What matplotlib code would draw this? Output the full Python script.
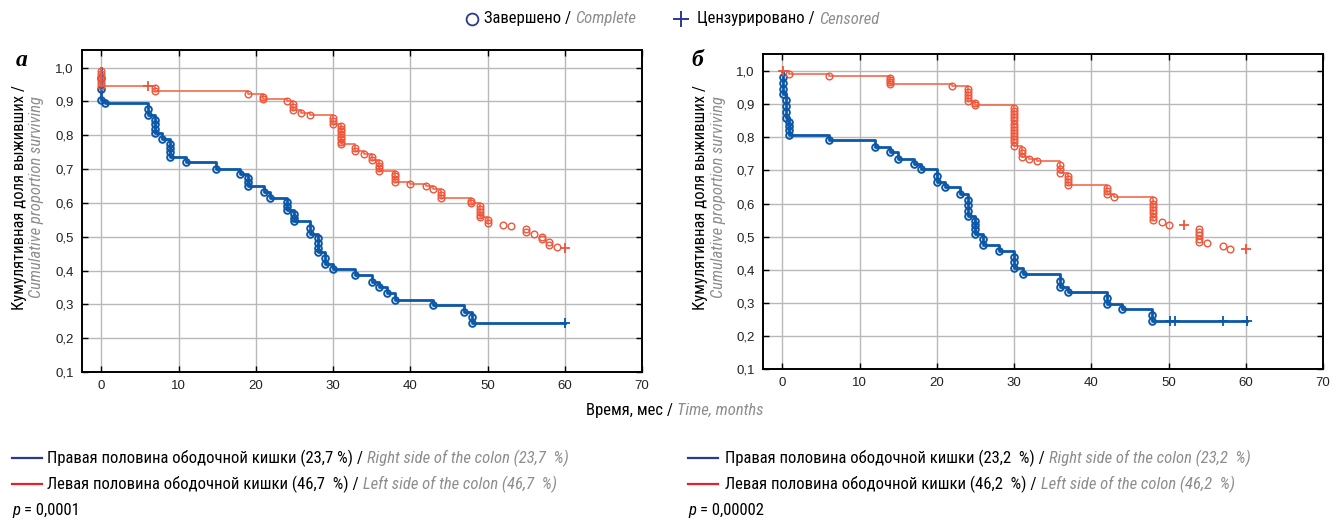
import matplotlib
matplotlib.use("Agg")
import matplotlib.pyplot as plt
from matplotlib import font_manager as fm
import numpy as np

# ---------------- DATA ----------------
# Panel a: event times, number of events, survival after events
a_right_t = [0, 0.5, 6.0, 6.9, 7.9, 8.9, 10.9, 14.9, 17.9, 19.0, 21.0, 21.9, 24.0, 24.9,
             27.0, 28.1, 28.9, 30.0, 32.9, 35.0, 35.9, 37.0, 38.0, 42.9, 46.9, 48.0]
a_right_n = [3, 1, 2, 4, 1, 4, 1, 1, 1, 3, 1, 1, 3, 3, 2, 4, 2, 1, 1, 1, 1, 1, 1, 1, 1, 2]
a_right_s = [0.905, 0.896, 0.860, 0.806, 0.788, 0.736, 0.721, 0.701, 0.685, 0.649, 0.632,
             0.615, 0.578, 0.545, 0.509, 0.454, 0.420, 0.404, 0.386, 0.366, 0.350, 0.333,
             0.314, 0.299, 0.278, 0.245]
a_right_cens_t = [60.0]
a_right_cens_s = [0.245]
a_right_line_end = 60.0

a_left_t = [0, 6.9, 19.0, 20.9, 24.0, 24.8, 25.9, 27.0, 30.0, 31.0, 32.9, 34.0, 35.0, 35.9,
            38.0, 39.9, 42.0, 42.9, 44.0, 47.9, 49.0, 50.0, 52.0, 53.0, 55.0, 56.0, 57.0,
            58.0, 59.0]
a_left_n = [6, 2, 1, 2, 1, 3, 1, 1, 3, 8, 2, 1, 2, 4, 4, 1, 1, 1, 3, 2, 5, 2, 1, 1, 2, 1, 2, 2, 1]
a_left_s = [0.947, 0.930, 0.922, 0.907, 0.900, 0.875, 0.867, 0.860, 0.834, 0.773, 0.752,
            0.744, 0.727, 0.694, 0.663, 0.656, 0.649, 0.641, 0.615, 0.599, 0.557, 0.540,
            0.536, 0.531, 0.514, 0.508, 0.492, 0.475, 0.469]
a_left_cens_t = [6.0, 60.0]
a_left_cens_s = [0.947, 0.467]
a_left_line_end = 50.0

# Panel b
b_right_t = [0.1, 0.5, 0.85, 6.0, 12.0, 13.9, 15.0, 17.0, 18.0, 20.0, 21.0, 23.0, 24.0,
             25.0, 26.0, 28.1, 30.0, 31.1, 35.9, 37.0, 42.0, 44.0, 47.9]
b_right_n = [4, 4, 4, 1, 1, 1, 1, 1, 1, 2, 1, 1, 4, 4, 2, 1, 3, 1, 2, 1, 2, 1, 2]
b_right_s = [0.930, 0.860, 0.808, 0.792, 0.771, 0.756, 0.734, 0.719, 0.703, 0.664, 0.649,
             0.629, 0.562, 0.509, 0.474, 0.458, 0.404, 0.386, 0.348, 0.333, 0.296, 0.282,
             0.245]
b_right_cens_t = [50.2, 50.9, 57.1, 60.1]
b_right_cens_s = [0.245, 0.245, 0.245, 0.245]
b_right_line_end = 60.1

b_left_t = [0.85, 6.0, 13.9, 22.0, 24.0, 24.9, 30.0, 31.0, 31.9, 33.0, 35.9, 37.0, 42.0,
            43.0, 48.0, 49.1, 50.1, 53.9, 55.0, 57.1, 57.9]
b_left_n = [1, 1, 4, 1, 5, 2, 13, 3, 1, 1, 3, 4, 3, 1, 7, 1, 1, 5, 1, 1, 1]
b_left_s = [0.993, 0.987, 0.962, 0.955, 0.911, 0.899, 0.775, 0.740, 0.734, 0.728, 0.692,
            0.656, 0.630, 0.620, 0.550, 0.544, 0.534, 0.484, 0.480, 0.472, 0.464]
b_left_cens_t = [0.1, 52.0, 60.0]
b_left_cens_s = [1.0, 0.534, 0.462]
b_left_line_end = 48.0

x_ticks = [0, 10, 20, 30, 40, 50, 60, 70]
y_ticks = [0.1, 0.2, 0.3, 0.4, 0.5, 0.6, 0.7, 0.8, 0.9, 1.0]

legend_right = ["Правая половина ободочной кишки (23,7 %) /", "Right side of the colon (23,7  %)",
                "Правая половина ободочной кишки (23,2  %) /", "Right side of the colon (23,2  %)"]
legend_left = ["Левая половина ободочной кишки (46,7  %) /", "Left side of the colon (46,7  %)",
               "Левая половина ободочной кишки (46,2  %) /", "Left side of the colon (46,2  %)"]
p_values = ["= 0,0001", "= 0,00002"]

# ---------------- FONTS ----------------
names = {f.name for f in fm.fontManager.ttflist}
COND = None
COND_STRETCH = 'normal'
for cand in ['Liberation Sans Narrow', 'Roboto Condensed', 'Open Sans Condensed',
             'Noto Sans Condensed', 'DejaVu Sans Condensed']:
    if cand in names:
        COND = cand
        break
if COND is None:
    if any(f.name == 'DejaVu Sans' and f.stretch in ('condensed', 'semi-condensed')
           for f in fm.fontManager.ttflist):
        COND = 'DejaVu Sans'
        COND_STRETCH = 'condensed'
    else:
        COND = 'DejaVu Sans'
COND_SIZE = 12.0 if COND != 'DejaVu Sans' or COND_STRETCH == 'condensed' else 9.8

plt.rcParams['font.family'] = ['Liberation Sans', 'DejaVu Sans']

BLUE = '#0b57a8'
RED = '#f0553a'
RED_LINE = '#f26b4c'
GRAY = '#8d8d8d'
NAVY = '#2b3990'

W, H = 1331, 522
fig = plt.figure(figsize=(W / 100, H / 100), dpi=100)


def px_axes(l, t, r, b):
    return fig.add_axes([l / W, 1 - b / H, (r - l) / W, (b - t) / H])


def draw_curve(ax, t, n, s, ct, cs, line_end, color, line_color, lw, mew, z):
    xs = [0.0]
    ys = [1.0]
    for ti, si in zip(t, s):
        if ti <= line_end:
            xs.append(ti)
            ys.append(si)
    if xs[-1] < line_end:
        xs.append(line_end)
        ys.append(ys[-1])
    ax.step(xs, ys, where='post', color=line_color, lw=lw, zorder=z, clip_on=False)
    mx, my = [], []
    prev = 1.0
    for ti, ni, si in zip(t, n, s):
        for k in range(1, ni + 1):
            mx.append(ti)
            my.append(prev - k * (prev - si) / ni)
        prev = si
    ax.plot(mx, my, 'o', ms=4.8, mfc='none', mec=color, mew=mew, zorder=z + 1, clip_on=False)
    ax.plot(ct, cs, '+', ms=7, mew=1.3, color=color, zorder=z + 1, clip_on=False)


def style_axes(ax):
    ax.set_xlim(-2.5, 70)
    ax.set_ylim(0.1, 1.052)
    ax.set_xticks(x_ticks)
    ax.set_yticks(y_ticks)
    ax.set_xticklabels([str(v) for v in x_ticks])
    ax.set_yticklabels([f"{v:.1f}".replace('.', ',') for v in y_ticks])
    ax.grid(True, color='#b9b9b9', lw=1.0)
    ax.set_axisbelow(True)
    ax.tick_params(direction='in', length=4, width=1.0, top=True, right=True,
                   labelsize=9.5, pad=6, colors='black', labelcolor='#222222')
    for sp in ax.spines.values():
        sp.set_linewidth(1.4)
        sp.set_color('black')


axA = px_axes(82, 50, 642, 372)
style_axes(axA)
draw_curve(axA, a_right_t, a_right_n, a_right_s, a_right_cens_t, a_right_cens_s,
           a_right_line_end, BLUE, BLUE, 2.0, 1.4, 3)
draw_curve(axA, a_left_t, a_left_n, a_left_s, a_left_cens_t, a_left_cens_s,
           a_left_line_end, RED, RED_LINE, 1.2, 1.0, 5)

axB = px_axes(763, 54, 1323, 369)
style_axes(axB)
draw_curve(axB, b_right_t, b_right_n, b_right_s, b_right_cens_t, b_right_cens_s,
           b_right_line_end, BLUE, BLUE, 2.0, 1.4, 3)
draw_curve(axB, b_left_t, b_left_n, b_left_s, b_left_cens_t, b_left_cens_s,
           b_left_line_end, RED, RED_LINE, 1.2, 1.0, 5)

# overlay in pixel coordinates
ov = fig.add_axes([0, 0, 1, 1])
ov.set_xlim(0, W)
ov.set_ylim(H, 0)
ov.axis('off')

TXT = dict(family=[COND, 'DejaVu Sans'], fontstretch=COND_STRETCH, fontsize=COND_SIZE)


def chain(x, y, segs):
    prev = None
    for s, col, sty in segs:
        if prev is None:
            prev = ov.text(x, y, s, color=col, style=sty, ha='left', va='center', **TXT)
        else:
            prev = ov.annotate(s, xy=(1, 0), xycoords=prev, xytext=(3, 0),
                               textcoords='offset points', color=col, style=sty,
                               ha='left', va='bottom', **TXT)
    return prev


# top legend
ov.plot([472], [19], 'o', ms=8.5, mfc='none', mec=NAVY, mew=1.3)
chain(484, 19, [("Завершено /", 'black', 'normal'), ("Complete", GRAY, 'italic')])
ov.plot([681], [19], '+', ms=12, mew=1.4, color=NAVY)
chain(697, 19, [("Цензурировано /", 'black', 'normal'), ("Censored", GRAY, 'italic')])

# panel letters
ov.text(22, 60, "а", family=['Liberation Serif', 'DejaVu Serif'], weight='bold',
        style='italic', fontsize=17, ha='center', va='center')
ov.text(697, 60, "б", family=['Liberation Serif', 'DejaVu Serif'], weight='bold',
        style='italic', fontsize=17, ha='center', va='center')

# y labels
for xb in (20, 701):
    ov.text(xb, 197, "Кумулятивная доля выживших /", rotation=90, ha='center', va='center',
            color='black', **TXT)
    ov.text(xb + 17, 197, "Cumulative proportion surviving", rotation=90, ha='center',
            va='center', color=GRAY, style='italic', **TXT)

# x label
chain(586, 410, [("Время, мес /", 'black', 'normal'), ("Time, months", GRAY, 'italic')])

# bottom legends
for i, (x0, xt) in enumerate(((12, 47), (688, 725))):
    ov.plot([x0, x0 + 30], [458, 458], color=NAVY, lw=1.6)
    chain(xt, 458, [(legend_right[2 * i], 'black', 'normal'),
                    (legend_right[2 * i + 1], GRAY, 'italic')])
    ov.plot([x0, x0 + 30], [484, 484], color='#e8202a', lw=1.6)
    chain(xt, 484, [(legend_left[2 * i], 'black', 'normal'),
                    (legend_left[2 * i + 1], GRAY, 'italic')])
    chain(x0, 510, [("p", 'black', 'italic'), (p_values[i], 'black', 'normal')])

fig.savefig("out.png", dpi=100)
